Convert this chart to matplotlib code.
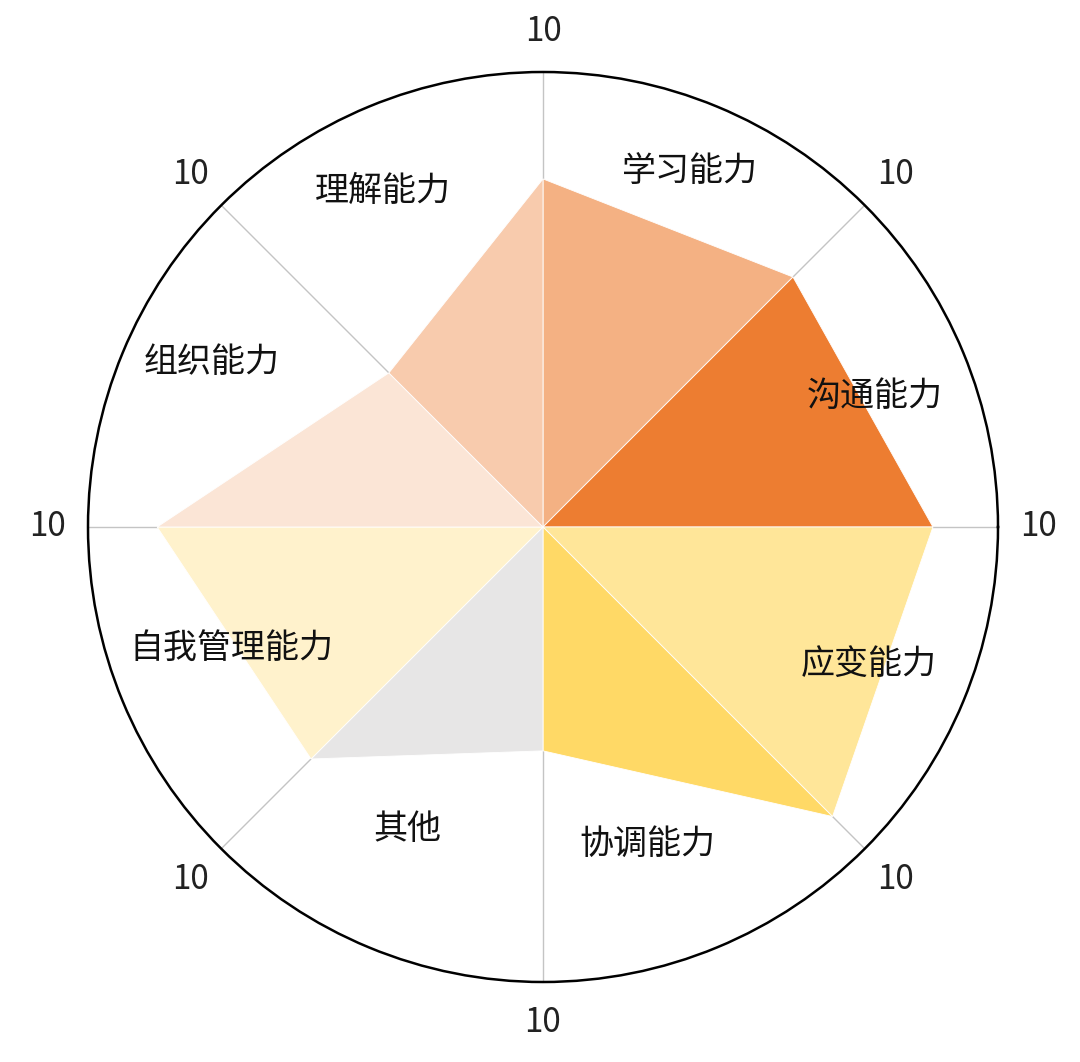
import numpy as np
import matplotlib
matplotlib.use("Agg")
import matplotlib.pyplot as plt

plt.rcParams['font.family'] = ['Noto Sans CJK SC', 'DejaVu Sans']

# Axis directions (degrees, counter-clockwise from east) and values on each axis
axis_angles = [90, 45, 0, 315, 270, 225, 180, 135]
axis_values = [7.65, 7.77, 8.57, 9.0, 4.92, 7.21, 8.48, 4.79]
axis_max_labels = ["10", "10", "10", "10", "10", "10", "10", "10"]

# Sectors: each between axis i and axis i+1
categories = ["学习能力", "沟通能力", "应变能力", "协调能力", "其他", "自我管理能力", "组织能力", "理解能力"]
colors = ["#F4B183", "#ED7D31", "#FFE699", "#FFD966", "#E7E6E6", "#FFF2CC", "#FBE5D6", "#F8CBAD"]

# Label positions (angle deg, radius)
label_angles = [67.5, 21.4, -22.8, -71.9, 245.8, 201.2, 153.6, 115.5]
label_radii = [8.45, 7.84, 7.77, 7.35, 7.28, 7.35, 8.12, 8.18]

RMAX = 10

fig = plt.figure(figsize=(10.8, 10.62), dpi=100)
ax = fig.add_axes([88/1080, 80/1062, 910/1080, 910/1062], projection='polar')
ax.set_ylim(0, RMAX)
ax.grid(False)
ax.set_xticks([])
ax.set_yticks([])
ax.spines['polar'].set_color('black')
ax.spines['polar'].set_linewidth(1.8)

# radial axis lines
for a in axis_angles:
    t = np.deg2rad(a)
    ax.plot([t, t], [0, RMAX], color='#C4C4C4', lw=1.0, zorder=1)

n = len(axis_angles)
for i in range(n):
    a0 = np.deg2rad(axis_angles[i])
    a1 = np.deg2rad(axis_angles[(i + 1) % n])
    v0 = axis_values[i]
    v1 = axis_values[(i + 1) % n]
    ax.fill([a0, a0, a1], [0, v0, v1], facecolor=colors[i], edgecolor='white',
            lw=0.6, zorder=2)

for name, la, lr in zip(categories, label_angles, label_radii):
    ax.text(np.deg2rad(la), lr, name, ha='center', va='center', fontsize=24.5,
            color='#111111', fontweight='light', zorder=5)

for a, lab in zip(axis_angles, axis_max_labels):
    r = 10.9 if a % 90 == 0 else 10.95
    ax.text(np.deg2rad(a), r, lab, ha='center', va='center', fontsize=24,
            color='#222222', fontweight='light', zorder=5)

fig.savefig("out.png", dpi=100, facecolor='white')
